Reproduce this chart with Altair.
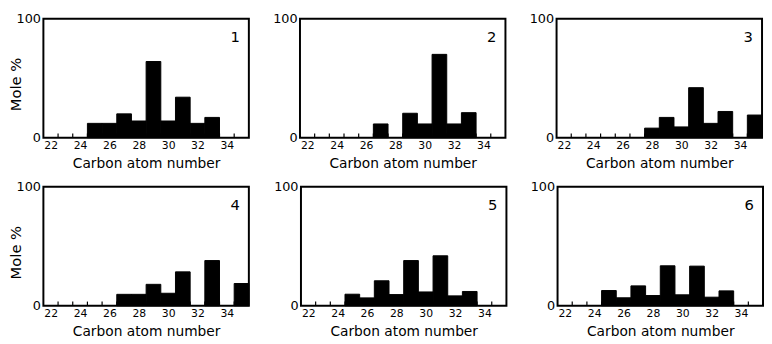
import altair as alt
import pandas as pd

carbon = list(range(22, 36))
panel_names = ["1", "2", "3", "4", "5", "6"]
mole_1 = [0, 0, 0, 12, 12, 20, 14, 64, 14, 34, 12, 17, 0, 0]
mole_2 = [0, 0, 0, 0, 0, 11.5, 0, 20.5, 11.5, 70, 11.5, 21, 0, 0]
mole_3 = [0, 0, 0, 0, 0, 0, 8, 17, 9, 42, 12, 22, 0, 19]
mole_4 = [0, 0, 0, 0, 0, 9.6, 9.6, 18, 10.5, 28.5, 0, 38, 0, 18.7]
mole_5 = [0, 0, 0, 9.7, 6.6, 21, 9.4, 38, 11.6, 42, 8.3, 12, 0, 0]
mole_6 = [0, 0, 0, 12.8, 6.7, 16.7, 8.6, 33.6, 9.2, 33.3, 7.2, 12.5, 0, 0]
series = [mole_1, mole_2, mole_3, mole_4, mole_5, mole_6]

x_ticks = [22, 24, 26, 28, 30, 32, 34]
y_ticks = [0, 100]
boundaries = [c + 0.5 for c in carbon[:-1]]

W, H = 209, 121
FONT = "DejaVu Sans"


def panel(name, values, left):
    df = pd.DataFrame({"c": carbon, "v": values})
    df = df[df["v"] > 0]
    df["lo"] = df["c"] - 0.5
    df["hi"] = df["c"] + 0.5
    xs = alt.Scale(domain=[21.5, 35.5], nice=False, zero=False)
    ys = alt.Scale(domain=[0, 100], nice=False)
    yaxis_kw = dict(values=y_ticks, labelFontSize=13, tickSize=0, domain=False,
                    grid=False, labelPadding=3, labelFont=FONT, labelOverlap=False,
                    labelColor="black")
    if left:
        yaxis = alt.Axis(title="Mole %", titleFontSize=15, titleFontWeight="normal",
                         titleFont=FONT, titleX=-20, titleY=H / 2 + 6,
                         titleColor="black", **yaxis_kw)
    else:
        yaxis = alt.Axis(title=None, **yaxis_kw)
    xaxis = alt.Axis(values=x_ticks, format="d", labelFontSize=11, tickSize=0,
                     domain=False, grid=False, labelPadding=2, labelFlush=False,
                     labelOverlap=False, labelSeparation=0, labelColor="black",
                     labelFont=FONT, title="Carbon atom number", titleFontSize=14,
                     titleFontWeight="normal", titleFont=FONT, titlePadding=6,
                     titleColor="black")
    bars = alt.Chart(df).mark_bar(color="black", stroke="black", strokeWidth=1).encode(
        x=alt.X("lo:Q", scale=xs, axis=xaxis),
        x2="hi:Q",
        y=alt.Y("v:Q", scale=ys, axis=yaxis, stack=None),
        y2=alt.datum(0),
    )
    ticks = alt.Chart(pd.DataFrame({"b": boundaries})).mark_rule(
        color="black", strokeWidth=1.2
    ).encode(x=alt.X("b:Q", scale=xs, axis=xaxis), y=alt.datum(0), y2=alt.datum(3.5))
    label = alt.Chart(pd.DataFrame({"n": [name]})).mark_text(
        font=FONT, fontSize=15, color="black", align="center", baseline="middle"
    ).encode(x=alt.value(W - 14), y=alt.value(19), text="n:N")
    return alt.layer(bars, ticks, label).properties(width=W, height=H)


panels = [panel(n, s, i % 3 == 0) for i, (n, s) in enumerate(zip(panel_names, series))]
row1 = alt.hconcat(*panels[:3], spacing=22)
row2 = alt.hconcat(*panels[3:], spacing=22)
chart = alt.vconcat(row1, row2, spacing=9).properties(
    padding={"left": 0, "top": 1, "right": 0, "bottom": 0}
).configure(
    font=FONT, background="white",
    view=alt.ViewConfig(stroke="black", strokeWidth=2),
)

chart.save("out.html", embed_options={"renderer": "svg", "actions": False})
